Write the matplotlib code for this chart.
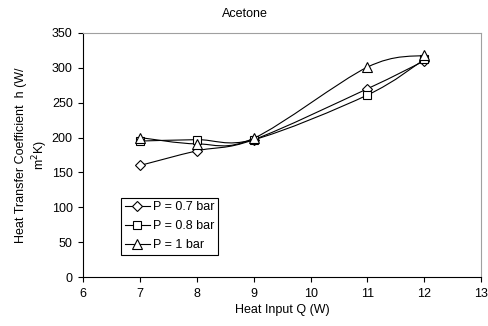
import matplotlib
matplotlib.use("Agg")
import matplotlib.pyplot as plt
import numpy as np
from matplotlib.path import Path
from matplotlib.patches import PathPatch
from matplotlib.lines import Line2D

plt.rcParams['font.family'] = ['Liberation Sans', 'DejaVu Sans']

heat_input = [7, 8, 9, 11, 12]
h_07 = [160, 181, 197, 270, 310]
h_08 = [195, 197, 197, 261, 312]
h_10 = [200, 191, 199, 301, 318]
labels = ["P = 0.7 bar", "P = 0.8 bar", "P = 1 bar"]
markers = ["D", "s", "^"]
msizes = [5, 6, 7]

FS = 9

fig = plt.figure(figsize=(4.89, 3.26), dpi=100)
ax = fig.add_axes([0.170, 0.150, 0.814, 0.749])


def smooth_path(xs, ys):
    pts = np.column_stack([xs, ys]).astype(float)
    n = len(pts)
    verts = [pts[0]]
    codes = [Path.MOVETO]
    for i in range(n - 1):
        p0 = pts[i - 1] if i > 0 else pts[i]
        p1 = pts[i]
        p2 = pts[i + 1]
        p3 = pts[i + 2] if i + 2 < n else pts[i + 1]
        c1 = p1 + (p2 - p0) / 6.0
        c2 = p2 - (p3 - p1) / 6.0
        verts += [c1, c2, p2]
        codes += [Path.CURVE4] * 3
    return Path(verts, codes)


for ys, lab, m, ms in zip([h_07, h_08, h_10], labels, markers, msizes):
    patch = PathPatch(smooth_path(heat_input, ys), facecolor='none',
                      edgecolor='black', lw=0.8, transform=ax.transData)
    ax.add_patch(patch)
    ax.plot(heat_input, ys, linestyle='none', color='black', marker=m,
            markersize=ms, markerfacecolor='white', markeredgecolor='black',
            markeredgewidth=0.8, label=lab)

handles = [Line2D([], [], color='black', lw=0.8, marker=m, markersize=ms,
                  markerfacecolor='white', markeredgewidth=0.8)
           for m, ms in zip(markers, msizes)]
leg = ax.legend(handles, labels, loc='upper left', bbox_to_anchor=(0.095, 0.325),
                fontsize=FS, frameon=True, fancybox=False, framealpha=1,
                edgecolor='black', handlelength=2.0, handletextpad=0.25,
                borderpad=0.3, labelspacing=0.55, borderaxespad=0)
leg.get_frame().set_linewidth(0.8)

ax.set_xlim(6, 13)
ax.set_ylim(0, 350)
ax.set_xticks(range(6, 14))
ax.set_yticks(range(0, 351, 50))
ax.tick_params(labelsize=FS, length=3.5, width=0.8, direction='out', pad=4)
ax.spines['top'].set_color('#a0a0a0')
ax.spines['right'].set_color('#a0a0a0')
for s in ['left', 'bottom']:
    ax.spines[s].set_color('black')
    ax.spines[s].set_linewidth(0.8)

ax.set_xlabel("Heat Input Q (W)", fontsize=FS, labelpad=3)
ax.set_ylabel("Heat Transfer Coefficient  h (W/\nm$^2$K)", fontsize=FS,
              labelpad=1, linespacing=1.3)
fig.text(0.5, 0.958, "Acetone", ha='center', va='center', fontsize=FS)

fig.savefig("out.png", dpi=100)
